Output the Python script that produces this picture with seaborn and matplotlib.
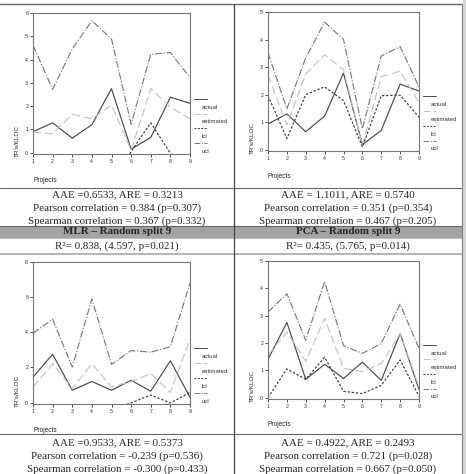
import matplotlib
matplotlib.use("Agg")
import matplotlib.pyplot as plt
import seaborn as sns
import pandas as pd
from matplotlib.lines import Line2D
from matplotlib.patches import Rectangle

sns.set_style("white")
plt.rcParams['font.family'] = ['Liberation Sans', 'DejaVu Sans']

projects = [1, 2, 3, 4, 5, 6, 7, 8, 9]
series_names = ["actual", "estimated", "lcl", "ucl"]

# top-left panel
p1_actual = [0.9, 1.28, 0.62, 1.2, 2.75, 0.15, 0.65, 2.38, 2.12]
p1_estimated = [0.88, 0.8, 1.65, 1.45, 2.05, 0.1, 2.75, 1.95, 1.45]
p1_lcl = [-1.2, -1.6, -0.6, -2.4, -1.5, 0.05, 1.28, -0.03, -1.4]
p1_ucl = [4.62, 2.72, 4.45, 5.67, 4.88, 1.22, 4.23, 4.3, 3.23]

# top-right panel
p2_actual = [0.93, 1.3, 0.65, 1.22, 2.78, 0.18, 0.7, 2.38, 2.13]
p2_estimated = [2.7, 0.9, 2.75, 3.45, 2.9, 0.15, 2.65, 2.85, 1.7]
p2_lcl = [1.96, 0.4, 2.0, 2.28, 1.78, 0.1, 1.96, 1.98, 1.18]
p2_ucl = [3.52, 1.48, 3.34, 4.63, 4.0, 0.76, 3.4, 3.74, 2.28]

# bottom-left panel
p3_actual = [1.45, 2.75, 0.7, 1.2, 0.7, 1.27, 0.65, 2.38, 0.3]
p3_estimated = [0.9, 2.2, 0.8, 2.2, 0.9, 1.2, 1.65, 0.58, 3.6]
p3_lcl = [-2.0, -0.4, -0.5, -1.5, -0.4, -0.02, 0.43, -0.02, 0.58]
p3_ucl = [3.95, 4.74, 2.02, 5.9, 2.17, 2.96, 2.87, 3.18, 6.8]

# bottom-right panel
p4_actual = [1.4, 2.75, 0.67, 1.22, 0.7, 1.3, 0.63, 2.35, 0.3]
p4_estimated = [1.55, 2.4, 1.33, 2.9, 1.08, 0.95, 1.25, 2.35, 0.4]
p4_lcl = [0.0, 1.05, 0.67, 1.48, 0.23, 0.15, 0.45, 1.38, 0.05]
p4_ucl = [3.13, 3.8, 2.1, 4.25, 1.9, 1.62, 1.98, 3.42, 1.8]

ymax = [6, 5, 8, 5]
ystep = [1, 1, 2, 1]

stats_text = [
    ["AAE =0.6533, ARE = 0.3213", "Pearson correlation = 0.384 (p=0.307)",
     "Spearman correlation = 0.367 (p=0.332)"],
    ["AAE = 1.1011, ARE = 0.5740", "Pearson correlation = 0.351 (p=0.354)",
     "Spearman correlation = 0.467 (p=0.205)"],
    ["AAE =0.9533, ARE = 0.5373", "Pearson correlation = -0.239 (p=0.536)",
     "Spearman correlation = -0.300 (p=0.433)"],
    ["AAE = 0.4922, ARE = 0.2493", "Pearson correlation = 0.721 (p=0.028)",
     "Spearman correlation = 0.667 (p=0.050)"],
]
headers = ["MLR \u2013 Random split 9", "PCA \u2013 Random split 9"]
r2_text = ["R\u00b2= 0.838, (4.597, p=0.021)", "R\u00b2= 0.435, (5.765, p=0.014)"]

styles = {
    "actual": dict(color="#4a4a4a", linestyle="-"),
    "estimated": dict(color="#c4c4c4", linestyle=(0, (7, 3))),
    "lcl": dict(color="#3a3a3a", linestyle=(0, (2, 1.5))),
    "ucl": dict(color="#7c7c7c", linestyle=(0, (6, 1.5, 1, 1.5))),
}

W, H = 466, 474
fig = plt.figure(figsize=(W / 100, H / 100), dpi=100)


def fx(px):
    return px / W


def fy(py):
    return 1 - py / H


# axes boxes in pixels: left, right, top, bottom
boxes = [(33, 190, 13, 154), (268, 419, 12, 151), (33, 190, 262, 404), (268, 419, 261, 399)]
panel_data = [
    [p1_actual, p1_estimated, p1_lcl, p1_ucl],
    [p2_actual, p2_estimated, p2_lcl, p2_ucl],
    [p3_actual, p3_estimated, p3_lcl, p3_ucl],
    [p4_actual, p4_estimated, p4_lcl, p4_ucl],
]

for i, (l, r, t, b) in enumerate(boxes):
    ax = fig.add_axes([fx(l), fy(b), fx(r) - fx(l), fy(t) - fy(b)])
    df = pd.DataFrame({"project": projects})
    for name, vals in zip(series_names, panel_data[i]):
        df[name] = vals
        sns.lineplot(data=df, x="project", y=name, ax=ax, lw=0.85, **styles[name])
    ax.set_xlim(1, 9)
    ax.set_ylim(-0.01 * ymax[i], ymax[i])
    ax.set_xticks(projects)
    ax.set_yticks(range(0, ymax[i] + 1, ystep[i]))
    ax.tick_params(labelsize=3.8, length=2, width=0.6, pad=1.5, colors="#333333",
                   left=True, bottom=True)
    for sp in ax.spines.values():
        sp.set_color("#777777")
        sp.set_linewidth(0.8)
    ax.set_ylabel("TR's/KLOC", fontsize=4.6, color="#222222", loc="bottom")
    ax.yaxis.set_label_coords(-0.085, -0.02)
    ax.set_xlabel("Projects", fontsize=4.7, color="#222222", loc="left")
    ax.xaxis.set_label_coords(0.0, -0.16)
    # key to the right of the plot area
    for k, name in enumerate(series_names):
        yl = 0.393 - 0.106 * k
        ax.add_line(Line2D([1.025, 1.11], [yl, yl], transform=ax.transAxes,
                           clip_on=False, lw=0.7, **styles[name]))
        ax.text(1.075, yl - 0.06, name, transform=ax.transAxes, fontsize=4.3,
                color="#333333", va="center", ha="left")

# table lines and shading
tc = "#666666"
fig.add_artist(Line2D([0, fx(462)], [fy(4), fy(4)], color=tc, lw=1.0))
fig.add_artist(Line2D([0, fx(462)], [fy(188), fy(188)], color=tc, lw=0.8))
fig.add_artist(Rectangle((0, fy(238)), fx(462), fy(226) - fy(238), facecolor="#a3a3a3",
                         edgecolor="none"))
fig.add_artist(Line2D([0, fx(462)], [fy(226), fy(226)], color=tc, lw=0.8))
fig.add_artist(Line2D([0, fx(462)], [fy(238), fy(238)], color="#bdbdbd", lw=0.8))
fig.add_artist(Line2D([0, fx(462)], [fy(254), fy(254)], color="#a8a8a8", lw=1.2))
fig.add_artist(Line2D([0, fx(462)], [fy(434), fy(434)], color=tc, lw=0.8))
fig.add_artist(Line2D([fx(234), fx(234)], [0, fy(4)], color="#444444", lw=0.9))
fig.add_artist(Line2D([fx(462), fx(462)], [0, fy(4)], color="#888888", lw=0.9))
fig.add_artist(Rectangle((fx(463), 0), fx(3), 1, facecolor="#d6d6d6", edgecolor="none"))

serif = ['Liberation Serif', 'DejaVu Serif']
col_cx = [117, 348]
for j, rows in enumerate(stats_text):
    cx = col_cx[j % 2]
    base = 195 if j < 2 else 443
    for k, line in enumerate(rows):
        fig.text(fx(cx), fy(base + 13 * k), line, family=serif, fontsize=7.9,
                 ha="center", va="center")
for j in range(2):
    fig.text(fx(col_cx[j]), fy(232), headers[j], family=serif, fontsize=7.9,
             fontweight="bold", ha="center", va="center")
    fig.text(fx(col_cx[j]), fy(246), r2_text[j], family=serif, fontsize=7.9,
             ha="center", va="center")

fig.savefig("out.png", dpi=100)
